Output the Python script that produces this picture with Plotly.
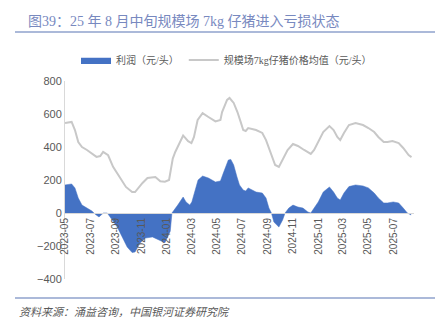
import plotly.graph_objects as go

price_dates = ["2023-05-01","2023-05-17","2023-05-25","2023-06-02","2023-06-11","2023-06-23","2023-07-16","2023-07-25",
    "2023-08-01","2023-08-13","2023-08-25","2023-09-07","2023-09-25","2023-10-10","2023-10-17","2023-11-04","2023-11-16",
    "2023-12-05","2023-12-17","2023-12-28","2024-01-07","2024-01-16","2024-01-22","2024-02-10","2024-02-22","2024-03-01",
    "2024-03-07","2024-03-16","2024-03-28","2024-04-11","2024-04-28","2024-05-10","2024-05-14","2024-05-26","2024-06-01",
    "2024-06-11","2024-06-20","2024-06-28","2024-07-04","2024-07-10","2024-07-16","2024-08-04","2024-08-19","2024-08-28",
    "2024-09-10","2024-09-19","2024-09-28","2024-10-07","2024-10-19","2024-11-01","2024-11-13","2024-11-28","2024-12-14",
    "2024-12-22","2025-01-01","2025-01-13","2025-01-28","2025-02-07","2025-02-16","2025-02-23","2025-03-04","2025-03-16",
    "2025-04-01","2025-04-19","2025-05-02","2025-05-16","2025-05-26","2025-06-08","2025-06-17","2025-06-29","2025-07-14",
    "2025-07-25","2025-08-07","2025-08-14"]
price_values = [545,552,503,430,400,382,340,345,370,350,280,230,158,127,127,182,212,218,192,190,200,330,370,470,435,424,
    460,564,605,582,555,564,612,685,697,667,612,551,503,497,515,503,485,442,351,291,279,321,382,418,406,382,358,382,430,
    491,527,503,461,442,485,533,545,533,515,491,461,430,430,436,424,394,351,339]

profit_dates = ["2023-05-01","2023-05-17","2023-05-25","2023-06-02","2023-06-11","2023-06-23","2023-07-05","2023-07-13",
    "2023-07-22","2023-07-29","2023-08-02","2023-08-11","2023-08-22","2023-09-04","2023-09-16","2023-09-28","2023-10-10",
    "2023-10-17","2023-10-29","2023-11-11","2023-11-28","2023-12-13","2023-12-28","2024-01-10","2024-01-14","2024-01-28",
    "2024-02-10","2024-02-17","2024-02-26","2024-03-02","2024-03-10","2024-03-17","2024-03-28","2024-04-11","2024-04-28",
    "2024-05-10","2024-05-17","2024-05-29","2024-06-04","2024-06-11","2024-06-19","2024-06-25","2024-07-04","2024-07-10",
    "2024-07-16","2024-07-28","2024-08-04","2024-08-19","2024-08-28","2024-09-04","2024-09-10","2024-09-16","2024-09-28",
    "2024-10-07","2024-10-13","2024-10-22","2024-11-01","2024-11-13","2024-11-25","2024-12-07","2024-12-14","2024-12-22",
    "2025-01-01","2025-01-13","2025-01-28","2025-02-07","2025-02-16","2025-02-23","2025-03-04","2025-03-16","2025-04-01",
    "2025-04-19","2025-05-02","2025-05-16","2025-05-26","2025-06-08","2025-06-17","2025-07-01","2025-07-14","2025-07-25",
    "2025-08-04","2025-08-13"]
profit_values = [170,176,152,91,48,30,12,-8,-24,-8,0,0,-42,-85,-145,-206,-240,-236,-182,-152,-145,-164,-180,-110,0,48,
    97,67,48,67,139,200,224,212,188,194,242,321,325,291,218,170,139,133,152,135,127,121,91,30,0,-55,-85,-42,0,30,48,36,30,
    6,0,30,67,127,158,127,91,79,121,160,170,164,152,121,91,61,61,67,61,30,0,-12]

title_text = "图39：25 年 8 月中旬规模场 7kg 仔猪进入亏损状态"
source_text = "资料来源：涌益咨询，中国银河证券研究院"
profit_name = "利润（元/头）"
price_name = "规模场7kg仔猪价格均值（元/头）"

L, R, T, B = 65, 26, 81, 46
W, H = 440, 325
pw, ph = W - L - R, H - T - B
def px(x): return (x - L) / pw
def py(y): return (H - B - y) / ph

fig = go.Figure()
fig.add_trace(go.Scatter(x=profit_dates, y=profit_values, name=profit_name, mode="lines",
                         fill="tozeroy", fillcolor="#4472C4", line=dict(color="#4472C4", width=0.5)))
fig.add_trace(go.Scatter(x=price_dates, y=price_values, name=price_name, mode="lines",
                         line=dict(color="#C8C8C8", width=2)))

fig.update_layout(
    width=W, height=H, margin=dict(l=L, r=R, t=T, b=B),
    paper_bgcolor="white", plot_bgcolor="white",
    font=dict(family="Liberation Sans, Noto Sans CJK SC", color="#595959", size=11),
    title=dict(text=title_text, x=28 / W, xanchor="left", xref="container",
               y=1 - 21 / H, yanchor="middle", yref="container",
               font=dict(family="Liberation Serif, Noto Sans CJK SC", size=14, color="#7889BF")),
    showlegend=True,
    legend=dict(orientation="h", x=px(76), y=py(60), xanchor="left", yanchor="middle",
                font=dict(size=10, color="#595959", family="Liberation Serif, Noto Sans CJK SC"),
                itemwidth=30, tracegroupgap=0, bgcolor="rgba(0,0,0,0)"),
    xaxis=dict(type="date", range=["2023-05-01", "2025-08-20"], dtick="M2", tick0="2023-05-01",
               tickformat="%Y-%m", tickangle=-90, showgrid=False, zeroline=False,
               showline=True, linecolor="#D9D9D9", linewidth=1, ticks="",
               anchor="free", position=1/3, automargin=False,
               tickfont=dict(size=10, color="#595959")),
    yaxis=dict(range=[-400, 800], dtick=200, showgrid=False, zeroline=False,
               showline=True, linecolor="#D9D9D9", linewidth=1, ticks="",
               tickfont=dict(size=11, color="#595959"), automargin=False, domain=[0, 1]),
)

fig.add_shape(type="line", xref="paper", yref="paper", x0=px(15), x1=px(435), y0=py(32), y1=py(32),
              line=dict(color="#8FA2CC", width=1.5))
fig.add_shape(type="line", xref="paper", yref="paper", x0=px(15), x1=px(435), y0=py(298), y1=py(298),
              line=dict(color="#8FA2CC", width=1.5))
fig.add_annotation(text=source_text, xref="paper", yref="paper", x=px(17), y=py(311),
                   xanchor="left", yanchor="middle", showarrow=False,
                   font=dict(size=11, color="#595959", family="Noto Sans CJK SC", style="italic"))

fig.write_html("out.html")
